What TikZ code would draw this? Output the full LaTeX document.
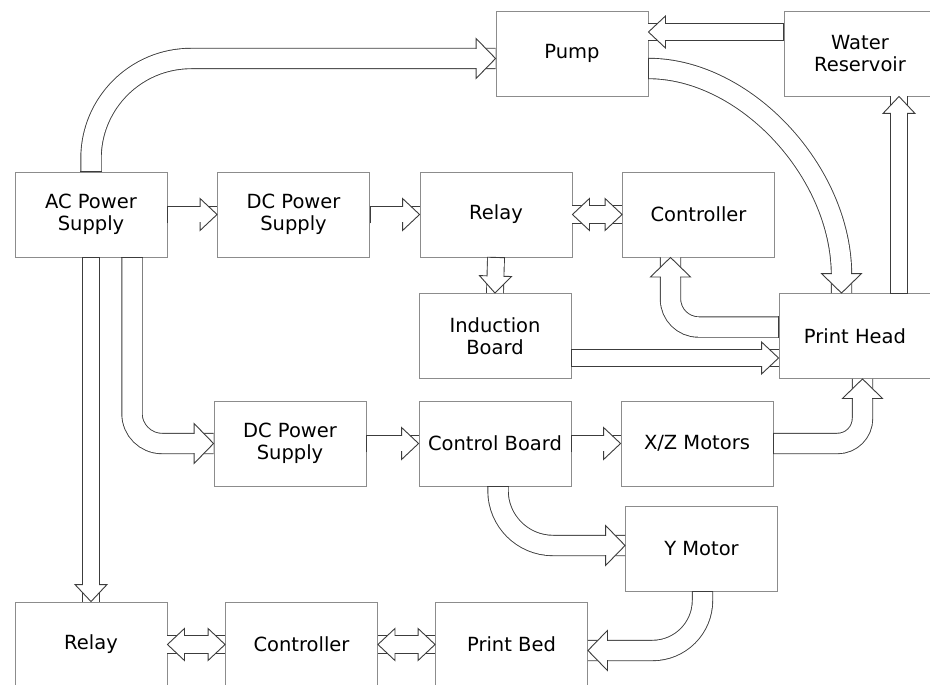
\documentclass[tikz,border=0pt]{standalone}
\usepackage{fontspec}
\setmainfont{DejaVu Sans}
\usetikzlibrary{calc, decorations.markings}

\definecolor{boxgray}{HTML}{8C8C8C}
\definecolor{pipegray}{HTML}{3C3C3C}

% head of a hollow block arrow: shaft width, half head width, head length
\newcommand{\pipetip}[3]{%
  \filldraw[sharp corners, fill=white, draw=pipegray, line width=0.9pt, line join=miter]
    (-#3,#2) -- (0pt,0pt) -- (-#3,-#2) -- cycle;
  \fill[sharp corners, white] (-#3-1pt,-#1/2+0.2pt) rectangle (-#3+1pt,#1/2-0.2pt);}
\newcommand{\pipeback}[3]{%
  \filldraw[sharp corners, fill=white, draw=pipegray, line width=0.9pt, line join=miter]
    (#3,#2) -- (0pt,0pt) -- (#3,-#2) -- cycle;
  \fill[sharp corners, white] (#3-1pt,-#1/2+0.2pt) rectangle (#3+1pt,#1/2-0.2pt);}

\begin{document}
\begin{tikzpicture}[x=1pt, y=-1pt,
    box/.style={draw=boxgray, line width=0.9pt, minimum width=152pt, minimum height=85pt,
      inner sep=0pt, align=center, font=\fontsize{19.5}{22}\selectfont},
    pipe/.style n args={3}{draw=white, line width=#1,
      preaction={draw=pipegray, line width=#1+1.8pt},
      postaction={decorate, decoration={markings,
        mark=at position 1 with {\pipetip{#1}{#2}{#3}}}}},
    pipe tail/.style={postaction={decorate, decoration={markings,
        mark=at position 0 with {\draw[sharp corners, pipegray, line width=0.9pt] (0pt,-#1/2-0.9pt) -- (0pt,#1/2+0.9pt);}}}},
    pipe back/.style n args={3}{postaction={decorate, decoration={markings,
        mark=at position 0 with {\pipeback{#1}{#2}{#3}}}}},
    oneway/.style={pipe={16pt}{16pt}{17pt}, pipe tail=16pt},
    twoway/.style={pipe={17pt}{16pt}{17pt}, pipe back={17pt}{16pt}{17pt}},
    bigpipe/.style={pipe={19.5pt}{20pt}{19.5pt}, pipe tail=19.5pt},
    bendway/.style={rounded corners=#1, bigpipe}]

  \useasboundingbox (0,0) rectangle (930,685);
  \clip (0,0) rectangle (930,685);

  % --- 1. boxes ---
  \node[box] (pump) at (572,53.5) {Pump};
  \node[box] (water) at (860,53.5) {Water\\Reservoir};
  \node[box] (ac) at (91,214.5) {AC Power\\Supply};
  \node[box] (dctop) at (293.5,214.5) {DC Power\\Supply};
  \node[box] (relaytop) at (496,214.5) {Relay};
  \node[box] (ctrltop) at (698.5,214.5) {Controller};
  \node[box] (induct) at (495,336) {Induction\\Board};
  \node[box] (head) at (855,336) {Print Head};
  \node[box] (dcbot) at (290,443.5) {DC Power\\Supply};
  \node[box] (ctrlboard) at (495,443.5) {Control Board};
  \node[box] (xz) at (697,443.5) {X/Z Motors};
  \node[box] (ymotor) at (701.5,548.5) {Y Motor};
  \node[box] (relaybot) at (91,644.5) {Relay};
  \node[box] (ctrlbot) at (301.5,644.5) {Controller};
  \node[box] (bed) at (511.5,644.5) {Print Bed};

  % --- 2. water loop ---
  \draw[bendway=100pt] (ac.north) |- ([yshift=-5pt]pump.west);
  \coordinate (waterout) at ([yshift=21.5pt]water.west);
  \draw[oneway] (waterout) -- (waterout -| pump.east);
  \draw[bigpipe] ([yshift=-15pt]pump.east)
    .. controls ([xshift=97pt,yshift=-15pt]pump.east) and ([xshift=-13.5pt,yshift=121pt]head.north)
    .. ([xshift=-13.5pt,yshift=18pt]head.north) -- ([xshift=-13.5pt]head.north);
  \coordinate (headtop) at ([xshift=44pt]head.north);
  \draw[oneway] (headtop) -- (headtop |- water.south);

  % --- 3. heater row ---
  \draw[oneway] (ac.east) -- (dctop.west);
  \draw[oneway] (dctop.east) -- (relaytop.west);
  \draw[twoway] (relaytop.east) -- (ctrltop.west);
  \draw[oneway] (relaytop.south) -- (induct.north);
  \coordinate (inductout) at ([yshift=-22pt]induct.east);
  \draw[oneway] (inductout) -- (inductout -| head.west);
  \draw[bendway=28pt] ([yshift=9pt]head.west) -| ([xshift=-28pt]ctrltop.south);

  % --- 4. motion row ---
  \draw[bendway=30pt] ([xshift=41pt]ac.south) |- (dcbot.west);
  \draw[oneway] (dcbot.east) -- (ctrlboard.west);
  \draw[oneway] (ctrlboard.east) -- (xz.west);
  \draw[bendway=25pt] (xz.east) -| ([xshift=7.5pt]head.south);
  \draw[bendway=55pt] ([xshift=3pt]ctrlboard.south) |- ([yshift=3pt]ymotor.west);

  % --- 5. bed row ---
  \draw[oneway] (ac.south) -- (relaybot.north);
  \draw[bendway=50pt] ([xshift=1pt]ymotor.south) |- ([yshift=-6pt]bed.east);
  \draw[twoway] (relaybot.east) -- (ctrlbot.west);
  \draw[twoway] (ctrlbot.east) -- (bed.west);
\end{tikzpicture}
\end{document}
